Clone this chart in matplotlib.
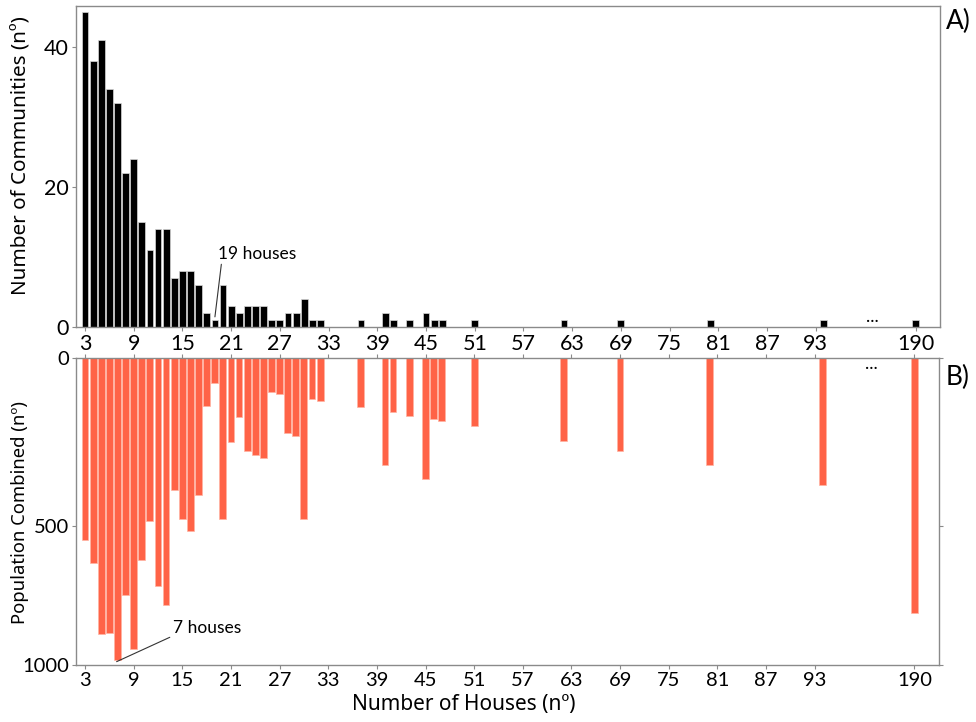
import numpy as np
import matplotlib
matplotlib.use('Agg')
import matplotlib.pyplot as plt

plt.rcParams['font.family'] = ['Lato', 'DejaVu Sans']

# ---- data ----
houses = [3, 4, 5, 6, 7, 8, 9, 10, 11, 12, 13, 14, 15, 16, 17, 18, 19, 20,
          21, 22, 23, 24, 25, 26, 27, 28, 29, 30, 31, 32,
          37, 40, 41, 43, 45, 46, 47, 51, 62, 69, 80, 94, 190]
communities = [45, 38, 41, 34, 32, 22, 24, 15, 11, 14, 14, 7, 8, 8, 6, 2, 1, 6,
               3, 2, 3, 3, 3, 1, 1, 2, 2, 4, 1, 1,
               1, 2, 1, 1, 2, 1, 1, 1, 1, 1, 1, 1, 1]
population = [550, 632, 890, 885, 982, 749, 942, 622, 485, 716, 785, 393, 480,
              517, 408, 144, 75, 480, 251, 176, 276, 288, 299, 103, 107, 224,
              232, 480, 124, 128,
              146, 320, 162, 172, 360, 183, 188, 203, 247, 276, 320, 377, 814]
tick_values = [3, 9, 15, 21, 27, 33, 39, 45, 51, 57, 63, 69, 75, 81, 87, 93, 190]
comm_ticks = [0, 20, 40]
pop_ticks = [0, 500, 1000]

# ---- layout helpers (broken x axis: values beyond 100 drawn after a gap) ----
BREAK_AT = 100
BREAK_POS = 105.3


def xpos(h):
    return h if h < BREAK_AT else BREAK_POS


x = np.array([xpos(h) for h in houses], dtype=float)
xt = [xpos(t) for t in tick_values]

# piecewise scale of the population axis (as drawn in the original)
_d = np.array([-1000, 0, 500, 1000, 3000], dtype=float)
_p = np.array([-336.6, 0, 168.3, 307.3, 863.3], dtype=float)


def fwd(v):
    return np.interp(v, _d, _p)


def inv(p):
    return np.interp(p, _p, _d)


LABEL_FONT = ['Noto Sans', 'DejaVu Sans']

W, H = 976, 722
fig = plt.figure(figsize=(W / 100, H / 100), dpi=100)

L, R = 76 / W, 940 / W
ax1 = fig.add_axes([L, (H - 327) / H, R - L, 321 / H])
ax2 = fig.add_axes([L, (H - 665) / H, (938.7 - 76) / W, (665 - 357.7) / H])

spine_c = '#8a8a8a'
xlim = (1.89, 108.3)

# ---- top panel ----
ax1.bar(x, communities, width=0.84, color='black', edgecolor='#d8d8d8', linewidth=0.5)
ax1.set_xlim(*xlim)
ax1.set_ylim(0, 45.86)
ax1.set_xticks(xt)
ax1.set_xticklabels([str(t) for t in tick_values], fontsize=15.5)
ax1.set_yticks(comm_ticks)
ax1.set_yticklabels([str(t) for t in comm_ticks], fontsize=15.5)
ax1.set_ylabel('Number of Communities (nº)', fontsize=14.9, family=LABEL_FONT)
ax1.yaxis.set_label_coords(-0.053, 0.535)
ax1.annotate('19 houses', xy=(19.0, 1.45), xytext=(19.35, 10.5),
             ha='left', va='center', fontsize=12.5,
             arrowprops=dict(arrowstyle='-', lw=0.8, color='#333333',
                             shrinkA=0, shrinkB=0, relpos=(0.05, 0.0)))
ax1.text(100, 0.75, '...', ha='center', va='baseline', fontsize=13)
fig.text(958.5 / W, (H - 21.5) / H, 'A)', ha='center', va='center', fontsize=19)

# ---- bottom panel ----
ax2.set_yscale('function', functions=(fwd, inv))
ax2.bar(x, population, width=0.84, color='#FF6347', edgecolor='#ffb3a3', linewidth=0.5)
ax2.set_xlim(*xlim)
ax2.set_ylim(1000, 0)
ax2.set_xticks(xt)
ax2.set_xticklabels([str(t) for t in tick_values], fontsize=14.5)
ax2.set_yticks(pop_ticks)
ax2.set_yticklabels([str(t) for t in pop_ticks], fontsize=14.5)
ax2.yaxis.set_minor_locator(matplotlib.ticker.NullLocator())
ax2.set_ylabel('Population Combined (nº)', fontsize=13.3, family=LABEL_FONT)
ax2.yaxis.set_label_coords(-0.055, 0.495)
ax2.set_xlabel('Number of Houses (nº)', fontsize=15.0, family=LABEL_FONT)
ax2.xaxis.set_label_coords(0.449, -0.095)
ax2.annotate('7 houses', xy=(6.9, 988), xytext=(13.8, 867),
             ha='left', va='center', fontsize=12.5,
             arrowprops=dict(arrowstyle='-', lw=0.8, color='#333333',
                             shrinkA=0, shrinkB=0, relpos=(0.0, 0.0)))
ax2.text(100, 33, '...', ha='center', va='baseline', fontsize=13)
fig.text(958 / W, (H - 377) / H, 'B)', ha='center', va='center', fontsize=19)
ax2.tick_params(axis='x', top=True, length=3)
ax2.tick_params(axis='y', right=True, length=3)

for ax in (ax1, ax2):
    for s in ax.spines.values():
        s.set_color(spine_c)
        s.set_linewidth(1.0)
    ax.tick_params(colors=spine_c, labelcolor='black', length=3, width=0.8, pad=2)

fig.savefig('out.png', dpi=100)
